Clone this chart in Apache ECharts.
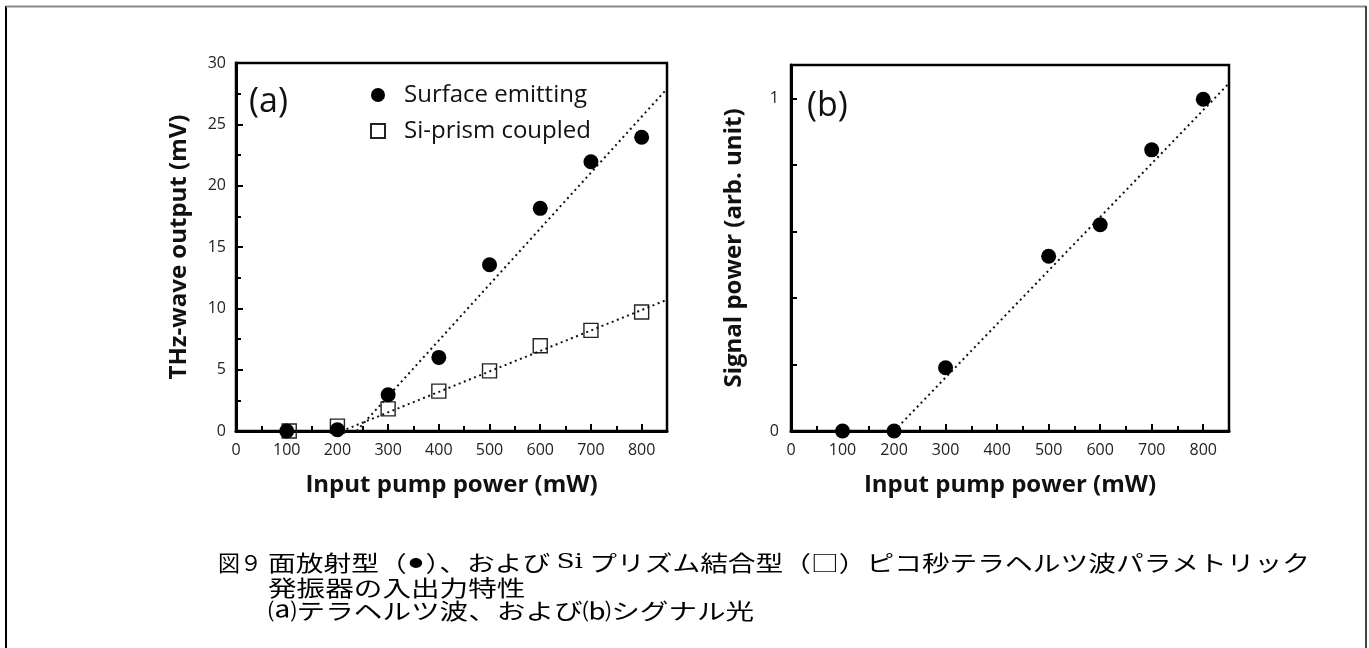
<!DOCTYPE html>
<html>
<head>
<meta charset="utf-8">
<script src="https://cdn.jsdelivr.net/npm/echarts@6/dist/echarts.min.js"></script>
<style>
html,body{margin:0;padding:0;background:#fff;}
#chart{width:1369px;height:648px;}
</style>
</head>
<body>
<div id="chart"></div>
<script>
// ---- data ----
const pumpA = [100, 200, 300, 400, 500, 600, 700, 800];
const surfaceA = [0, 0.1, 2.95, 6.0, 13.55, 18.15, 21.95, 23.95];
const prismX = [105, 200, 300, 400, 500, 600, 700, 800];
const prismA = [0, 0.4, 1.8, 3.25, 4.9, 6.95, 8.2, 9.7];
const surfaceFitX = [238, 850];
const surfaceFitY = [0, 27.9];
const prismFitX = [218, 850];
const prismFitY = [0.15, 10.7];
const pumpB = [100, 200, 300, 500, 600, 700, 800];
const signalB = [0, 0, 0.19, 0.525, 0.62, 0.845, 0.997];
const signalFitX = [200, 850];
const signalFitY = [0, 1.045];
const xTicks = [0, 100, 200, 300, 400, 500, 600, 700, 800];
const yTicksA = [0, 5, 10, 15, 20, 25, 30];
const yTicksB = [0, 1];
const legendNames = ['Surface emitting', 'Si-prism coupled'];
const captionHead = '図９';
const captionLines = [
  '面放射型（{d|●}）、および {s|Si} プリズム結合型（□）ピコ秒テラヘルツ波パラメトリック',
  '発振器の入出力特性',
  '⒜テラヘルツ波、および⒝シグナル光'
];

const zip = (xs, ys) => xs.map((x, i) => [x, ys[i]]);
const FONT = '"Open Sans", "Noto Sans", sans-serif';
const CJK = '22px "Noto Sans CJK JP"';
const tickLabel = { fontFamily: FONT, fontSize: 16, color: '#222' };
const nameStyle = { fontFamily: FONT, fontSize: 24, fontWeight: 'bold', color: '#111' };
const dotted = { color: '#111', width: 2, type: [2, 3.5] };

function xAxisCfg(gi) {
  return {
    type: 'value', gridIndex: gi, min: 0, max: 850, interval: 100,
    axisLine: { show: true, onZero: false, lineStyle: { color: '#000', width: 3 } },
    axisTick: { show: true, inside: true, length: 7, lineStyle: { color: '#000', width: 2 } },
    minorTick: { show: true, splitNumber: 2, length: 5, lineStyle: { color: '#000', width: 2 } },
    splitLine: { show: false },
    axisLabel: Object.assign({ margin: 11, formatter: v => xTicks.includes(v) ? String(v) : '' }, tickLabel),
    name: 'Input pump power (mW)', nameLocation: 'middle', nameGap: 42, nameTextStyle: nameStyle
  };
}

const option = {
  animation: false,
  backgroundColor: '#fff',
  grid: [
    { left: 236, right: 1369 - 667, top: 63, bottom: 648 - 431, show: true, borderColor: '#000', borderWidth: 2.5 },
    { left: 791, right: 1369 - 1229, top: 65, bottom: 648 - 431, show: true, borderColor: '#000', borderWidth: 2.5 }
  ],
  xAxis: [xAxisCfg(0), xAxisCfg(1)],
  yAxis: [
    {
      type: 'value', gridIndex: 0, min: 0, max: 30, interval: 5,
      axisLine: { show: true, onZero: false, lineStyle: { color: '#000', width: 3 } },
      axisTick: { show: true, inside: true, length: 7, lineStyle: { color: '#000', width: 2 } },
      minorTick: { show: true, splitNumber: 2, length: 5, lineStyle: { color: '#000', width: 2 } },
      splitLine: { show: false },
      axisLabel: Object.assign({ margin: 10, formatter: v => yTicksA.includes(v) ? String(v) : '' }, tickLabel),
      name: 'THz-wave output (mV)', nameLocation: 'middle', nameRotate: 90, nameGap: 45, nameTextStyle: nameStyle
    },
    {
      type: 'value', gridIndex: 1, min: 0, max: 1.1, interval: 0.2,
      axisLine: { show: true, onZero: false, lineStyle: { color: '#000', width: 3 } },
      axisTick: { show: true, inside: true, length: 6, lineStyle: { color: '#000', width: 2 } },
      splitLine: { show: false },
      axisLabel: Object.assign({ margin: 12, formatter: v => {
        const r = Math.round(v * 1000) / 1000; return yTicksB.includes(r) ? String(r) : ''; } }, tickLabel),
      name: 'Signal power (arb. unit)', nameLocation: 'middle', nameRotate: 90, nameGap: 45, nameTextStyle: nameStyle
    }
  ],
  legend: {
    orient: 'vertical', left: 370, top: 82, padding: 0, itemWidth: 14, itemHeight: 14, itemGap: 10,
    textStyle: { fontFamily: FONT, fontSize: 24, color: '#111', lineHeight: 26, padding: [0, 0, 0, 14] },
    data: [
      { name: legendNames[0], icon: 'circle', itemStyle: { color: '#000', opacity: 1 } },
      { name: legendNames[1], icon: 'rect' }
    ]
  },
  series: [
    {
      name: legendNames[1], type: 'scatter', xAxisIndex: 0, yAxisIndex: 0, z: 2,
      symbol: 'rect', symbolSize: 14,
      itemStyle: { color: 'rgba(255,255,255,0)', borderColor: '#222', borderWidth: 1.4, opacity: 1 },
      data: zip(prismX, prismA)
    },
    {
      type: 'line', xAxisIndex: 0, yAxisIndex: 0, z: 3, symbol: 'none', silent: true,
      lineStyle: dotted, data: zip(surfaceFitX, surfaceFitY)
    },
    {
      type: 'line', xAxisIndex: 0, yAxisIndex: 0, z: 3, symbol: 'none', silent: true,
      lineStyle: dotted, data: zip(prismFitX, prismFitY)
    },
    {
      name: legendNames[0], type: 'scatter', xAxisIndex: 0, yAxisIndex: 0, z: 4,
      symbol: 'circle', symbolSize: 15, itemStyle: { color: '#000', opacity: 1 },
      data: zip(pumpA, surfaceA)
    },
    {
      type: 'line', xAxisIndex: 1, yAxisIndex: 1, z: 3, symbol: 'none', silent: true,
      lineStyle: dotted, data: zip(signalFitX, signalFitY)
    },
    {
      type: 'scatter', xAxisIndex: 1, yAxisIndex: 1, z: 4,
      symbol: 'circle', symbolSize: 15, itemStyle: { color: '#000', opacity: 1 },
      data: zip(pumpB, signalB)
    }
  ],
  graphic: [
    { type: 'line', shape: { x1: 6, y1: 648, x2: 6, y2: 6 }, style: { stroke: '#000', lineWidth: 2 } },
    { type: 'line', shape: { x1: 6, y1: 6.5, x2: 1366, y2: 6.5 }, style: { stroke: '#888', lineWidth: 2 } },
    { type: 'line', shape: { x1: 1366, y1: 6, x2: 1366, y2: 648 }, style: { stroke: '#444', lineWidth: 2 } },
    { type: 'text', left: 249, top: 85, style: { text: '(a)', font: '34px ' + FONT, fill: '#111' } },
    { type: 'text', left: 807, top: 89, style: { text: '(b)', font: '34px ' + FONT, fill: '#111' } },
    { type: 'text', x: 218, y: 552, style: { text: captionHead, font: CJK, fill: '#000' } },
    { type: 'text', x: 268, y: 552, scaleX: 1.26, style: {
        text: captionLines[0], font: CJK, fill: '#000',
        rich: {
          s: { fontFamily: '"DejaVu Serif", "Liberation Serif", serif', fontSize: 21, fill: '#000' },
          d: { fontFamily: '"Noto Sans CJK JP"', fontSize: 11, fill: '#000', padding: [0, 2, 0, 2] }
        } } },
    { type: 'text', x: 268, y: 577, scaleX: 1.3, style: { text: captionLines[1], font: CJK, fill: '#000' } },
    { type: 'text', x: 268, y: 600, scaleX: 1.3, style: { text: captionLines[2], font: CJK, fill: '#000' } }
  ]
};

const chart = echarts.init(document.getElementById('chart'), null, { renderer: 'canvas' });
chart.setOption(option);
</script>
</body>
</html>
